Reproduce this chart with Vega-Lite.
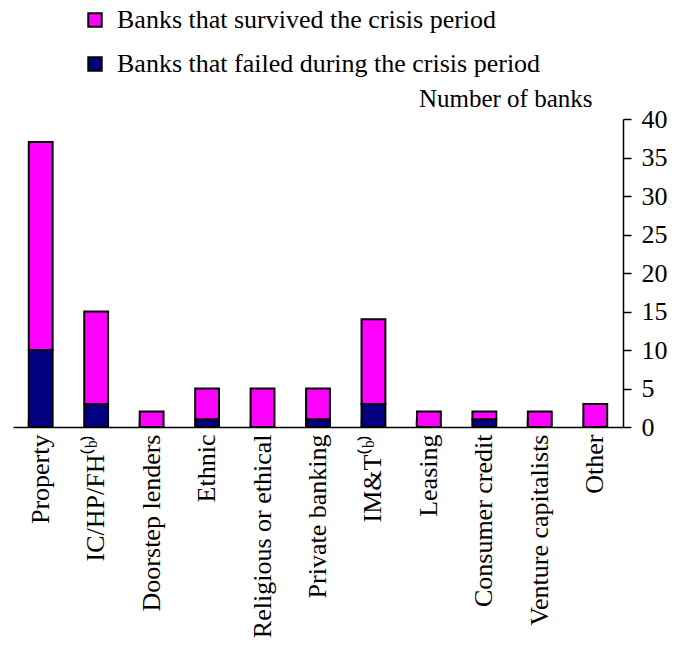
{
  "$schema": "https://vega.github.io/schema/vega-lite/v6.json",
  "autosize": "none",
  "width": 610,
  "height": 308,
  "padding": {"left": 13, "top": 119, "right": 51, "bottom": 220},
  "background": "white",
  "config": {"view": {"stroke": null}, "font": "Liberation Serif"},
  "data": {"values": [
    {"category": "Property", "status": "Banks that failed during the crisis period", "ord": 1, "count": 10},
    {"category": "Property", "status": "Banks that survived the crisis period", "ord": 2, "count": 27},
    {"category": "IC/HP/FH⁽ᵇ⁾", "status": "Banks that failed during the crisis period", "ord": 1, "count": 3},
    {"category": "IC/HP/FH⁽ᵇ⁾", "status": "Banks that survived the crisis period", "ord": 2, "count": 12},
    {"category": "Doorstep lenders", "status": "Banks that failed during the crisis period", "ord": 1, "count": 0},
    {"category": "Doorstep lenders", "status": "Banks that survived the crisis period", "ord": 2, "count": 2},
    {"category": "Ethnic", "status": "Banks that failed during the crisis period", "ord": 1, "count": 1},
    {"category": "Ethnic", "status": "Banks that survived the crisis period", "ord": 2, "count": 4},
    {"category": "Religious or ethical", "status": "Banks that failed during the crisis period", "ord": 1, "count": 0},
    {"category": "Religious or ethical", "status": "Banks that survived the crisis period", "ord": 2, "count": 5},
    {"category": "Private banking", "status": "Banks that failed during the crisis period", "ord": 1, "count": 1},
    {"category": "Private banking", "status": "Banks that survived the crisis period", "ord": 2, "count": 4},
    {"category": "IM&T⁽ᵇ⁾", "status": "Banks that failed during the crisis period", "ord": 1, "count": 3},
    {"category": "IM&T⁽ᵇ⁾", "status": "Banks that survived the crisis period", "ord": 2, "count": 11},
    {"category": "Leasing", "status": "Banks that failed during the crisis period", "ord": 1, "count": 0},
    {"category": "Leasing", "status": "Banks that survived the crisis period", "ord": 2, "count": 2},
    {"category": "Consumer credit", "status": "Banks that failed during the crisis period", "ord": 1, "count": 1},
    {"category": "Consumer credit", "status": "Banks that survived the crisis period", "ord": 2, "count": 1},
    {"category": "Venture capitalists", "status": "Banks that failed during the crisis period", "ord": 1, "count": 0},
    {"category": "Venture capitalists", "status": "Banks that survived the crisis period", "ord": 2, "count": 2},
    {"category": "Other", "status": "Banks that failed during the crisis period", "ord": 1, "count": 0},
    {"category": "Other", "status": "Banks that survived the crisis period", "ord": 2, "count": 3}
  ]},
  "mark": {"type": "bar", "stroke": "black", "strokeWidth": 2},
  "encoding": {
    "x": {
      "field": "category", "type": "nominal", "sort": null,
      "scale": {"paddingInner": 0.57, "paddingOuter": 0.285},
      "axis": {
        "title": null, "labelAngle": -90, "labelAlign": "right", "labelBaseline": "middle",
        "labelFont": "Liberation Serif", "labelFontSize": 26, "labelColor": "black",
        "labelPadding": 15, "bandPosition": 0, "tickSize": -8, "tickColor": "black", "tickWidth": 1.5,
        "domainColor": "black", "domainWidth": 1.5, "labelLimit": 400
      }
    },
    "y": {
      "field": "count", "type": "quantitative", "stack": "zero",
      "scale": {"domain": [0, 40], "nice": false},
      "axis": {
        "orient": "right", "values": [0, 5, 10, 15, 20, 25, 30, 35, 40], "grid": false,
        "title": "Number of banks", "titleAngle": 0, "titleAlign": "right", "titleBaseline": "alphabetic",
        "titleX": -31, "titleY": -13, "titleFont": "Liberation Serif", "titleFontSize": 25, "titleFontWeight": "normal",
        "titleColor": "black",
        "labelFont": "Liberation Serif", "labelFontSize": 26, "labelColor": "black",
        "tickSize": 8, "tickColor": "black", "tickWidth": 1.5, "domainColor": "black", "domainWidth": 1.5, "labelPadding": 10
      }
    },
    "color": {
      "field": "status", "type": "nominal",
      "scale": {
        "domain": ["Banks that survived the crisis period", "Banks that failed during the crisis period"],
        "range": ["#FF00FF", "#000080"]
      },
      "legend": {
        "orient": "none", "legendX": 69, "legendY": -112, "title": null,
        "symbolType": "square", "symbolSize": 180, "symbolStrokeColor": "black", "symbolStrokeWidth": 2,
        "labelFont": "Liberation Serif", "labelFontSize": 26, "labelColor": "black",
        "rowPadding": 18, "labelLimit": 600, "labelOffset": 9
      }
    },
    "order": {"field": "ord", "type": "quantitative"}
  }
}
